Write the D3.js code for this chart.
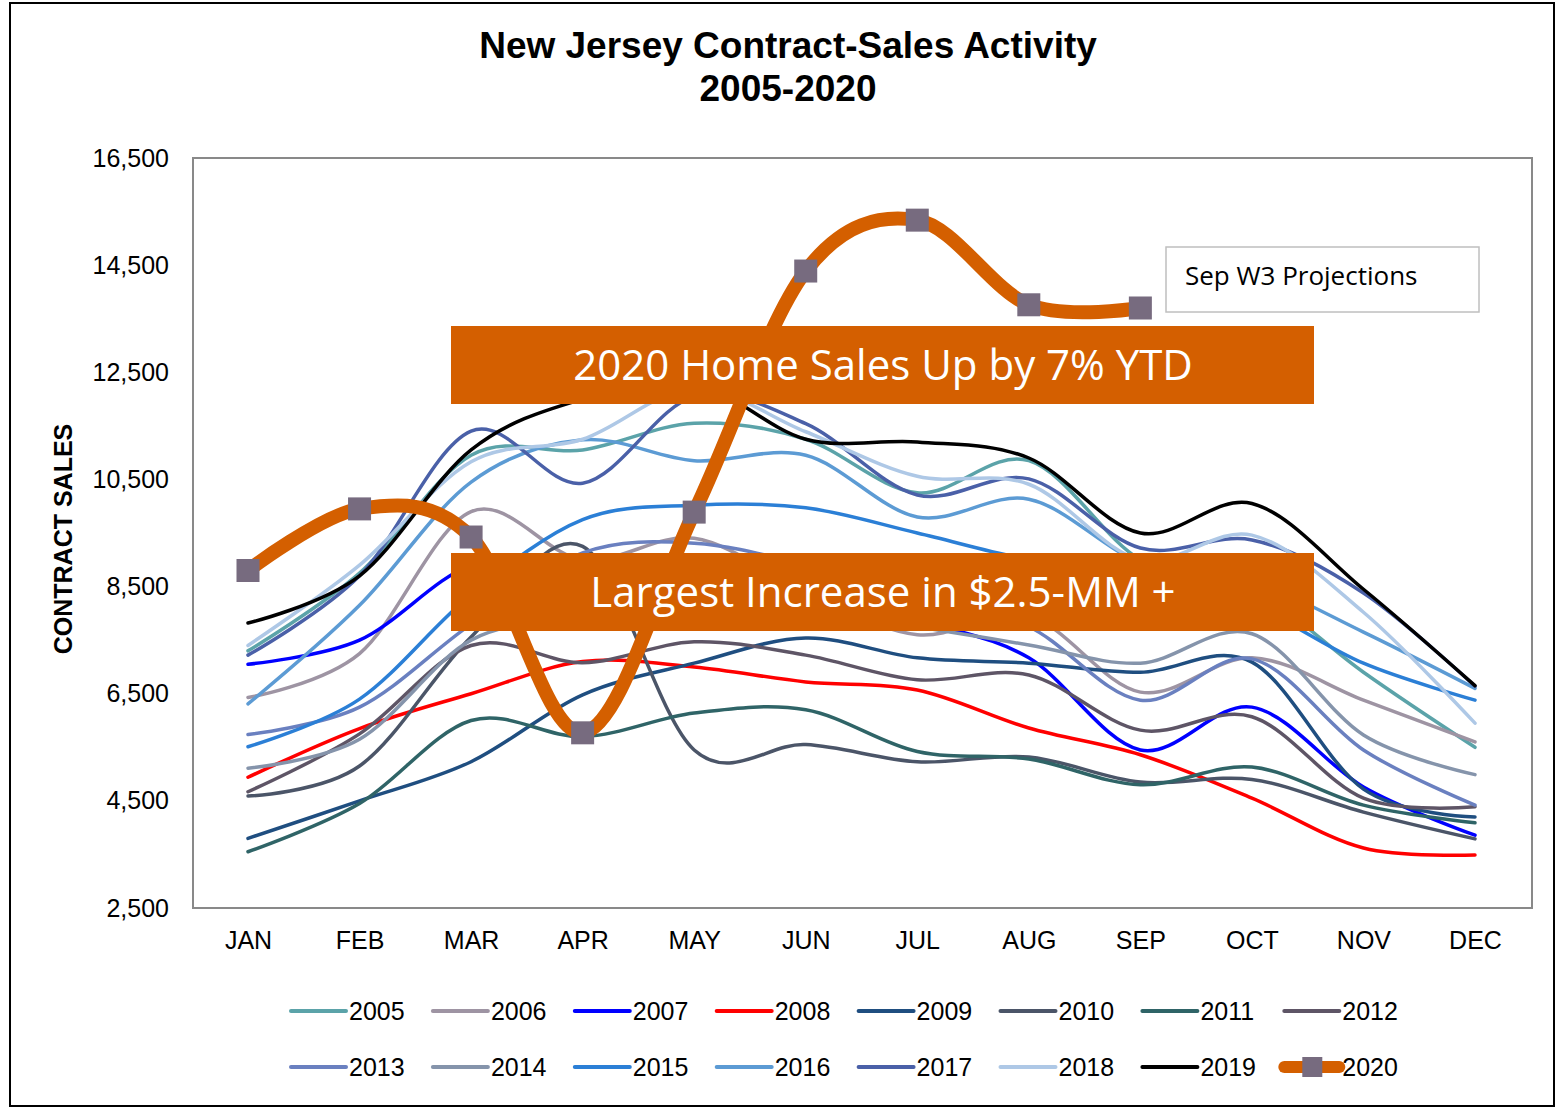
<!DOCTYPE html>
<html>
<head>
<meta charset="utf-8">
<script src="https://cdn.jsdelivr.net/npm/d3@7"></script>
<style>
  body { margin: 0; background: #fff; }
  svg { display: block; }
</style>
</head>
<body>
<div id="container"></div>
<script>
// ---------------- DATA ----------------
const months = ["JAN","FEB","MAR","APR","MAY","JUN","JUL","AUG","SEP","OCT","NOV","DEC"];
const years = ["2005","2006","2007","2008","2009","2010","2011","2012",
               "2013","2014","2015","2016","2017","2018","2019","2020"];
const yTicks = [2500, 4500, 6500, 8500, 10500, 12500, 14500, 16500];

const s2005 = [7300, 8750, 10950, 11050, 11550, 11250, 10250, 10850, 9000, 8450, 6900, 5500];
const s2006 = [6430, 7250, 9900, 9000, 9400, 8400, 7600, 7950, 6530, 7170, 6380, 5600];
const s2007 = [7050, 7500, 8900, 9000, 8950, 8700, 7900, 7170, 5450, 6250, 4760, 3860];
const s2008 = [4940, 5850, 6500, 7100, 7000, 6720, 6570, 5860, 5360, 4550, 3620, 3490];
const s2009 = [3800, 4500, 5230, 6480, 7070, 7540, 7170, 7070, 6900, 7090, 4720, 4200];
const s2010 = [4590, 5150, 7560, 9250, 5450, 5550, 5230, 5320, 4850, 4900, 4290, 3790];
const s2011 = [3550, 4450, 6000, 5700, 6140, 6200, 5420, 5280, 4800, 5130, 4420, 4090];
const s2012 = [4670, 5750, 7400, 7080, 7470, 7220, 6760, 6850, 5820, 6070, 4550, 4390];
const s2013 = [5740, 6250, 7800, 9130, 9310, 8900, 8300, 7750, 6380, 7150, 5450, 4420];
const s2014 = [5110, 5650, 7500, 7900, 8200, 8050, 7750, 7410, 7070, 7620, 5730, 4990];
const s2015 = [5510, 6400, 8350, 9750, 10020, 9970, 9500, 9000, 8700, 8150, 7070, 6380];
const s2016 = [6310, 8150, 10450, 11240, 10850, 10950, 9800, 10130, 8950, 8600, 7650, 6600];
const s2017 = [7220, 8700, 11400, 10430, 12050, 11540, 10210, 10510, 9220, 9370, 8380, 6640];
const s2018 = [7400, 8900, 10830, 11250, 12200, 11390, 10560, 10410, 9000, 9460, 8020, 5950];
const s2019 = [7820, 8700, 11050, 12000, 12300, 11250, 11200, 10900, 9500, 10050, 8450, 6650];
const s2020 = [8800, 9950, 9425, 5770, 9890, 14390, 15340, 13760, 13700];

const colors = ["#5ba3a9","#9e94a3","#0000ff","#ff0000","#1f4e80","#4b5568","#2f6467","#5e5566",
                "#6a80c0","#8594ab","#2b7fd6","#5c9bd4","#4a60a8","#aec8e6","#000000","#d45f00"];

const allValues = [s2005,s2006,s2007,s2008,s2009,s2010,s2011,s2012,
                   s2013,s2014,s2015,s2016,s2017,s2018,s2019,s2020];
const series = years.map((y, i) => ({
  id: y,
  color: colors[i],
  values: allValues[i].map((v, j) => ({month: months[j], value: v}))
}));

// ---------------- SVG ----------------
const width = 1564, height = 1112;
const plot = {left: 193, top: 158, right: 1532, bottom: 908};
const orange = "#d45f00";
const markerFill = "#776b7f";

const svg = d3.select("#container").append("svg")
    .attr("width", width)
    .attr("height", height);

svg.append("rect")
    .attr("x", 10).attr("y", 3)
    .attr("width", 1544).attr("height", 1103)
    .attr("fill", "#fff")
    .attr("stroke", "#000")
    .attr("stroke-width", 2);

// title
svg.append("text")
    .attr("x", 788).attr("y", 58)
    .attr("text-anchor", "middle")
    .style("font-family", "Liberation Sans, Arial, sans-serif")
    .style("font-weight", "bold")
    .style("font-size", "37px")
    .text("New Jersey Contract-Sales Activity");
svg.append("text")
    .attr("x", 788).attr("y", 101)
    .attr("text-anchor", "middle")
    .style("font-family", "Liberation Sans, Arial, sans-serif")
    .style("font-weight", "bold")
    .style("font-size", "37px")
    .text("2005-2020");

// ---------------- SCALES ----------------
const xScale = d3.scalePoint()
    .domain(months)
    .range([248, 1475]);
const yScale = d3.scaleLinear()
    .domain([2500, 16500])
    .range([plot.bottom, plot.top]);

// plot frame
svg.append("rect")
    .attr("x", plot.left).attr("y", plot.top)
    .attr("width", plot.right - plot.left)
    .attr("height", plot.bottom - plot.top)
    .attr("fill", "none")
    .attr("stroke", "#898989")
    .attr("stroke-width", 2);

// ---------------- AXES ----------------
const yaxis = d3.axisLeft(yScale)
    .tickValues(yTicks)
    .tickFormat(d3.format(","))
    .tickSize(0)
    .tickPadding(24);
const gy = svg.append("g")
    .attr("transform", "translate(" + plot.left + ",0)")
    .call(yaxis);
gy.select(".domain").remove();
gy.selectAll("text")
    .style("font-family", "Liberation Sans, Arial, sans-serif")
    .style("font-size", "25px")
    .attr("fill", "#000");

const xaxis = d3.axisBottom(xScale)
    .tickSize(0)
    .tickPadding(23);
const gx = svg.append("g")
    .attr("transform", "translate(0," + plot.bottom + ")")
    .call(xaxis);
gx.select(".domain").remove();
gx.selectAll("text")
    .style("font-family", "Liberation Sans, Arial, sans-serif")
    .style("font-size", "25px")
    .attr("fill", "#000");

svg.append("text")
    .attr("transform", "translate(72,539) rotate(-90)")
    .attr("text-anchor", "middle")
    .style("font-family", "Liberation Sans, Arial, sans-serif")
    .style("font-weight", "bold")
    .style("font-size", "25px")
    .text("CONTRACT SALES");

// ---------------- LINES ----------------
const line = d3.line()
    .x(d => xScale(d.month))
    .y(d => yScale(d.value))
    .curve(d3.curveCatmullRom.alpha(0));

svg.append("g").selectAll("path")
    .data(series)
    .enter()
    .append("path")
    .attr("d", d => line(d.values))
    .attr("fill", "none")
    .attr("stroke", d => d.color)
    .attr("stroke-width", d => d.id === "2020" ? 14 : 3.5)
    .attr("stroke-linecap", "round")
    .attr("stroke-linejoin", "round");

// markers for 2020
const last = series[series.length - 1];
svg.append("g").selectAll("rect")
    .data(last.values)
    .enter()
    .append("rect")
    .attr("x", d => xScale(d.month) - 11.5)
    .attr("y", d => yScale(d.value) - 11.5)
    .attr("width", 23)
    .attr("height", 23)
    .attr("fill", markerFill);

// ---------------- ANNOTATIONS ----------------
const notes = [
  {text: "2020 Home Sales Up by 7% YTD", y: 326},
  {text: "Largest Increase in $2.5-MM +", y: 553}
];
const ng = svg.append("g").selectAll("g")
    .data(notes)
    .enter()
    .append("g");
ng.append("rect")
    .attr("x", 451)
    .attr("y", d => d.y)
    .attr("width", 863)
    .attr("height", 78)
    .attr("fill", orange);
ng.append("text")
    .attr("x", 883)
    .attr("y", d => d.y + 54)
    .attr("text-anchor", "middle")
    .attr("fill", "#fff")
    .style("font-family", "Open Sans, Noto Sans, sans-serif")
    .style("font-size", "42px")
    .text(d => d.text);

svg.append("rect")
    .attr("x", 1166).attr("y", 247)
    .attr("width", 313).attr("height", 65)
    .attr("fill", "#fff")
    .attr("stroke", "#bfbfbf")
    .attr("stroke-width", 1.5);
svg.append("text")
    .attr("x", 1185).attr("y", 285)
    .style("font-family", "Open Sans, Noto Sans, sans-serif")
    .style("font-size", "26px")
    .attr("fill", "#000")
    .text("Sep W3 Projections");

// ---------------- LEGEND ----------------
const legend = svg.append("g").selectAll("g")
    .data(series)
    .enter()
    .append("g")
    .attr("transform", (d, i) => "translate(" + (291 + (i % 8) * 141.9) + "," + (1011 + Math.floor(i / 8) * 56) + ")");

legend.append("line")
    .attr("x1", 0).attr("x2", 55)
    .attr("y1", 0).attr("y2", 0)
    .attr("stroke", d => d.color)
    .attr("stroke-width", d => d.id === "2020" ? 12 : 4)
    .attr("stroke-linecap", "round");

legend.filter(d => d.id === "2020")
    .append("rect")
    .attr("x", 18).attr("y", -10)
    .attr("width", 20).attr("height", 20)
    .attr("fill", markerFill);

legend.append("text")
    .attr("x", 58)
    .attr("y", 9)
    .style("font-family", "Liberation Sans, Arial, sans-serif")
    .style("font-size", "25px")
    .attr("fill", "#000")
    .text(d => d.id);
</script>
</body>
</html>
